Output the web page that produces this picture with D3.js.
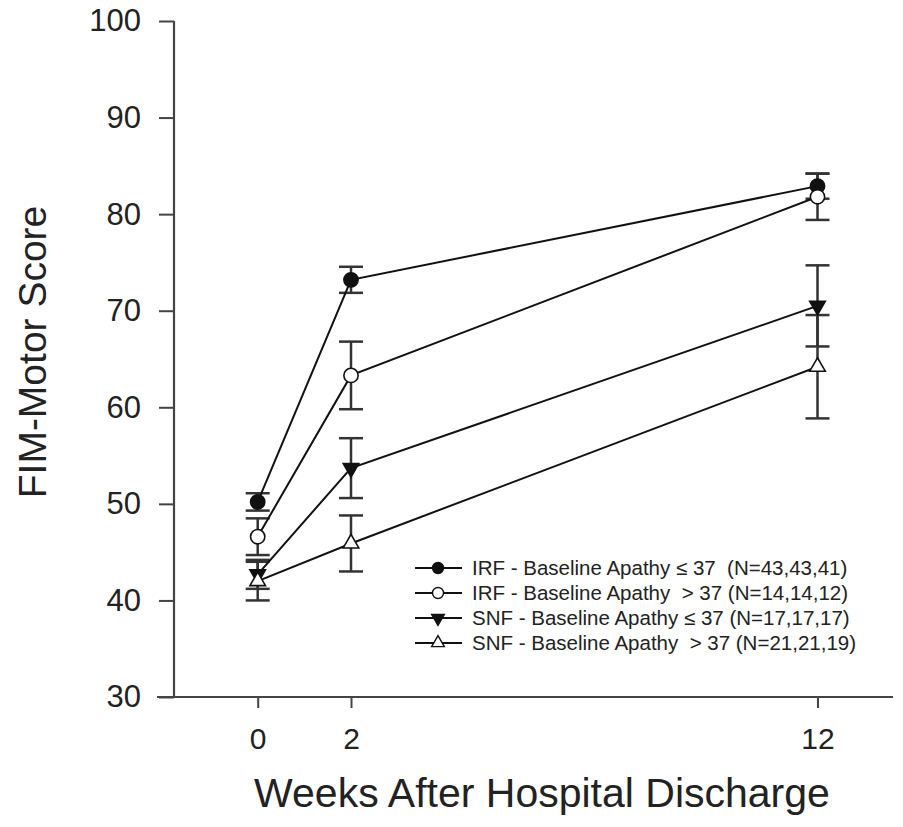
<!DOCTYPE html>
<html>
<head>
<meta charset="utf-8">
<script src="https://cdn.jsdelivr.net/npm/d3@7"></script>
<style>
  html, body { margin: 0; padding: 0; background: #fff; }
  svg { display: block; }
  text { font-family: "Liberation Sans", Arial, sans-serif; fill: #222; white-space: pre; }
</style>
</head>
<body>
<svg id="chart" width="903" height="827"></svg>
<script>
// Follow-up time points (weeks after discharge)
const weeks = [0, 2, 12];
const weekTickLabels = ["0", "2", "12"];
const scoreTicks = [30, 40, 50, 60, 70, 80, 90, 100];

// Group means and error-bar half widths, one array per group
const irfLowMean  = [50.2, 73.2, 82.9];
const irfLowErr   = [0.9, 1.35, 1.3];
const irfHighMean = [46.6, 63.3, 81.8];
const irfHighErr  = [1.9, 3.5, 2.4];
const snfLowMean  = [42.7, 53.7, 70.5];
const snfLowErr   = [1.5, 3.1, 4.2];
const snfHighMean = [42.0, 45.9, 64.2];
const snfHighErr  = [2.0, 2.9, 5.35];

const groupLabels = [
  "IRF - Baseline Apathy \u2264 37  (N=43,43,41)",
  "IRF - Baseline Apathy  > 37 (N=14,14,12)",
  "SNF - Baseline Apathy \u2264 37 (N=17,17,17)",
  "SNF - Baseline Apathy  > 37 (N=21,21,19)"
];

const groups = [
  { label: groupLabels[0], mean: irfLowMean,  err: irfLowErr,  shape: "circle",   filled: true  },
  { label: groupLabels[1], mean: irfHighMean, err: irfHighErr, shape: "circle",   filled: false },
  { label: groupLabels[2], mean: snfLowMean,  err: snfLowErr,  shape: "triDown",  filled: true  },
  { label: groupLabels[3], mean: snfHighMean, err: snfHighErr, shape: "triUp",    filled: false }
];

const svg = d3.select("#chart");

const axisX = 174, axisY = 697;
const x = d3.scaleLinear().domain([0, 12]).range([257.7, 817.5]);
const y = d3.scaleLinear().domain([30, 100]).range([697, 21]);

function symbolPath(shape, big) {
  if (shape === "circle") return d3.symbol(d3.symbolCircle, big ? 160 : 95)();
  return d3.symbol(d3.symbolTriangle, big ? 105 : 70)();
}
function symbolTransform(shape, px, py) {
  return shape === "triDown"
    ? `translate(${px},${py}) rotate(180)`
    : `translate(${px},${py})`;
}

// Axes
const yAxis = svg.append("g")
  .attr("transform", `translate(${axisX},0)`)
  .call(d3.axisLeft(y).tickValues(scoreTicks).tickSize(15).tickSizeOuter(0).tickPadding(18));
yAxis.select(".domain").remove();
yAxis.selectAll(".tick line").attr("stroke", "#444").attr("stroke-width", 2);
yAxis.selectAll(".tick text").style("font-size", "31px").attr("fill", "#222");

const xAxis = svg.append("g")
  .attr("transform", `translate(0,${axisY})`)
  .call(d3.axisBottom(x).tickValues(weeks).tickFormat((d, i) => weekTickLabels[i])
        .tickSize(11).tickSizeOuter(0).tickPadding(20));
xAxis.select(".domain").remove();
xAxis.selectAll(".tick line").attr("stroke", "#444").attr("stroke-width", 2);
xAxis.selectAll(".tick text").style("font-size", "30px").attr("fill", "#222");

svg.append("line").attr("x1", axisX).attr("x2", axisX).attr("y1", y(100)).attr("y2", axisY)
  .attr("stroke", "#444").attr("stroke-width", 2.2);
svg.append("line").attr("x1", 157).attr("x2", 893).attr("y1", axisY).attr("y2", axisY)
  .attr("stroke", "#444").attr("stroke-width", 2.2);

// Axis titles
svg.append("text")
  .attr("transform", "translate(46,352) rotate(-90)")
  .attr("text-anchor", "middle")
  .style("font-size", "39px")
  .text("FIM-Motor Score");

svg.append("text")
  .attr("x", 542).attr("y", 807)
  .attr("text-anchor", "middle")
  .style("font-size", "41px")
  .text("Weeks After Hospital Discharge");

// Error bars
const capHalf = 12;
const plot = svg.append("g");
groups.forEach(g => {
  const eb = plot.append("g");
  weeks.forEach((w, i) => {
    const px = x(w), hi = y(g.mean[i] + g.err[i]), lo = y(g.mean[i] - g.err[i]);
    eb.append("line").attr("x1", px).attr("x2", px).attr("y1", hi).attr("y2", lo)
      .attr("stroke", "#333").attr("stroke-width", 2.5);
    [hi, lo].forEach(cy => eb.append("line")
      .attr("x1", px - capHalf).attr("x2", px + capHalf).attr("y1", cy).attr("y2", cy)
      .attr("stroke", "#333").attr("stroke-width", 2.5));
  });
});

// Connecting lines
const line = d3.line().x((d, i) => x(weeks[i])).y(d => y(d));
groups.forEach(g => {
  plot.append("path").attr("d", line(g.mean))
    .attr("fill", "none").attr("stroke", "#111").attr("stroke-width", 2);
});

// Markers
groups.forEach(g => {
  weeks.forEach((w, i) => {
    plot.append("path")
      .attr("d", symbolPath(g.shape, true))
      .attr("transform", symbolTransform(g.shape, x(w), y(g.mean[i])))
      .attr("fill", g.filled ? "#111" : "#fff")
      .attr("stroke", "#111").attr("stroke-width", 1.6);
  });
});

// Legend
const legend = svg.append("g");
const legendRows = [568, 593, 618, 643];
groups.forEach((g, i) => {
  const ry = legendRows[i];
  legend.append("line").attr("x1", 415).attr("x2", 462).attr("y1", ry).attr("y2", ry)
    .attr("stroke", "#111").attr("stroke-width", 2);
  legend.append("path")
    .attr("d", symbolPath(g.shape, false))
    .attr("transform", symbolTransform(g.shape, 438, ry))
    .attr("fill", g.filled ? "#111" : "#fff")
    .attr("stroke", "#111").attr("stroke-width", 1.4);
  legend.append("text")
    .attr("x", 472).attr("y", ry).attr("dy", "0.36em")
    .style("font-size", "20.5px")
    .attr("fill", "#333")
    .text(g.label);
});
</script>
</body>
</html>
